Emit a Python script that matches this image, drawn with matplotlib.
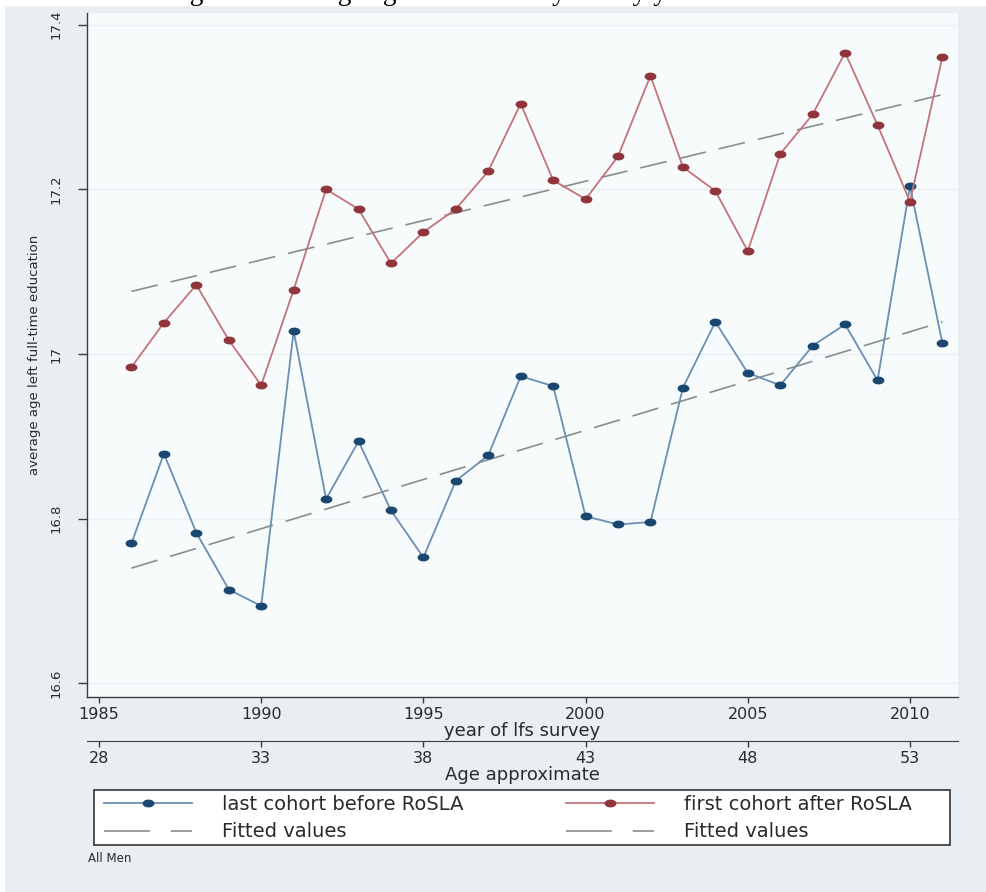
import numpy as np
import matplotlib
matplotlib.use('Agg')
import matplotlib.pyplot as plt
from matplotlib.path import Path
from matplotlib.patches import Rectangle
from matplotlib.lines import Line2D

# ---------------- data ----------------
years = list(range(1986, 2012))
last_before = [16.770, 16.879, 16.783, 16.714, 16.694, 17.028, 16.824, 16.894,
               16.810, 16.753, 16.846, 16.877, 16.973, 16.961, 16.803, 16.793,
               16.796, 16.959, 17.039, 16.977, 16.962, 17.010, 17.036, 16.968,
               17.204, 17.013]
first_after = [16.984, 17.038, 17.084, 17.017, 16.962, 17.078, 17.200, 17.176,
               17.110, 17.148, 17.176, 17.222, 17.304, 17.211, 17.188, 17.240,
               17.338, 17.227, 17.198, 17.125, 17.243, 17.291, 17.366, 17.278,
               17.185, 17.361]
fit_years = [1986, 2011]
fit_before = [16.740, 17.039]
fit_after = [17.076, 17.315]

year_ticks = [1985, 1990, 1995, 2000, 2005, 2010]
age_ticks = [28, 33, 38, 43, 48, 53]
age_offset = 1957
y_ticks = [16.6, 16.8, 17.0, 17.2, 17.4]
y_tick_labels = ['16.6', '16.8', '17', '17.2', '17.4']

label_before = 'last cohort before RoSLA'
label_after = 'first cohort after RoSLA'
label_fit = 'Fitted values'
title_text = 'Figure 2: Average age left school by survey year'
note_text = 'All Men'

# ---------------- style ----------------
W, H = 986, 892
plt.rcParams['font.family'] = ['DejaVu Sans']
fig = plt.figure(figsize=(W / 100, H / 100), dpi=100, facecolor='white')

bg = '#e8eef1'
fig.patches.append(Rectangle((5 / W, 0), 1 - 5 / W, 1 - 6 / H,
                             transform=fig.transFigure, facecolor=bg,
                             edgecolor='none', zorder=-10))

# title sits mostly above the top edge (only descenders visible, as in the source)
fig.text(167 / W, 1.0 - 0.3 / H, title_text, family='Liberation Serif',
         fontsize=19.8, va='baseline', ha='left', color='black')

left, right, top, bottom = 87, 958, 13, 697
ax = fig.add_axes([left / W, 1 - bottom / H, (right - left) / W, (bottom - top) / H])
ax.set_facecolor('#f8fbfc')

ax.set_xlim(1984.63, 2011.48)
ax.set_ylim(16.5835, 17.4141)

navy = '#1a476f'
maroon = '#90353b'
navy_line = '#6b8fb3'
maroon_line = '#c4737a'
fit_col = '#8c8c8c'
txt_col = '#2a2a2a'
axis_col = '#3c3c3c'

t = np.linspace(0, 2 * np.pi, 41)
ell = Path(np.column_stack([np.cos(t), 0.62 * np.sin(t)]), closed=True)

lw_fit = 1.2
fit_ls = (0, (19.5 / lw_fit, 9.5 / lw_fit))

ax.plot(fit_years, fit_before, color=fit_col, lw=lw_fit, ls=fit_ls, zorder=2)
ax.plot(fit_years, fit_after, color=fit_col, lw=lw_fit, ls=fit_ls, zorder=2)
l1, = ax.plot(years, last_before, color=navy_line, lw=1.3, marker=ell, ms=7.5,
              mfc=navy, mec=navy, zorder=3)
l2, = ax.plot(years, first_after, color=maroon_line, lw=1.3, marker=ell, ms=7.5,
              mfc=maroon, mec=maroon, zorder=3)

# grid & spines
ax.set_yticks(y_ticks)
ax.set_yticklabels(y_tick_labels, rotation=90, va='center')
ax.grid(axis='y', color='#eaeff2', lw=1.0)
ax.set_axisbelow(True)
for s in ['top', 'right']:
    ax.spines[s].set_visible(False)
for s in ['left', 'bottom']:
    ax.spines[s].set_color(axis_col)
    ax.spines[s].set_linewidth(1.0)

ax.tick_params(axis='y', length=6.5, width=1.0, color=axis_col,
               labelsize=9.5, labelcolor=txt_col, pad=11)
ax.set_ylabel('average age left full-time education', fontsize=9.5,
              color=txt_col, labelpad=6)

ax.set_xticks(year_ticks)
ax.tick_params(axis='x', length=4, width=1.0, color=axis_col,
               labelsize=11.5, labelcolor=txt_col, pad=3)
ax.set_xlabel('year of lfs survey', fontsize=13, color=txt_col, labelpad=0)

sec = ax.secondary_xaxis(-(741 - bottom) / (bottom - top),
                         functions=(lambda x: x - age_offset, lambda a: a + age_offset))
sec.set_xticks(age_ticks)
sec.spines['bottom'].set_color(axis_col)
sec.tick_params(axis='x', length=4, width=1.0, color=axis_col,
                labelsize=11.5, labelcolor=txt_col, pad=3)
sec.set_xlabel('Age approximate', fontsize=13, color=txt_col, labelpad=0)

# legend: frame + two library legends (one per column)
fig.patches.append(Rectangle((94 / W, 1 - 845 / H), (950 - 94) / W, (845 - 790) / H,
                             transform=fig.transFigure, facecolor='white',
                             edgecolor='#333333', lw=1.2, zorder=1))
fit_handle = Line2D([], [], color=fit_col, lw=lw_fit,
                    ls=(0, (33 / lw_fit, 15 / lw_fit)))
leg_fs = 14
leg_kw = dict(loc='upper left', bbox_transform=fig.transFigure, fontsize=leg_fs,
              handlelength=88 / (leg_fs * 100 / 72), handletextpad=1.55,
              borderpad=0, borderaxespad=0, labelspacing=0.43, numpoints=1,
              frameon=False, labelcolor=txt_col)
legA = fig.legend([l1, fit_handle], [label_before, label_fit],
                  bbox_to_anchor=(104 / W, 1 - 795 / H), **leg_kw)
legB = fig.legend([l2, fit_handle], [label_after, label_fit],
                  bbox_to_anchor=(566 / W, 1 - 795 / H), **leg_kw)
legA.set_zorder(5)
legB.set_zorder(5)

fig.text(88 / W, 1 - 859 / H, note_text, fontsize=8.5, color=txt_col,
         va='center', ha='left')

fig.savefig('out.png', dpi=100, facecolor=fig.get_facecolor())
